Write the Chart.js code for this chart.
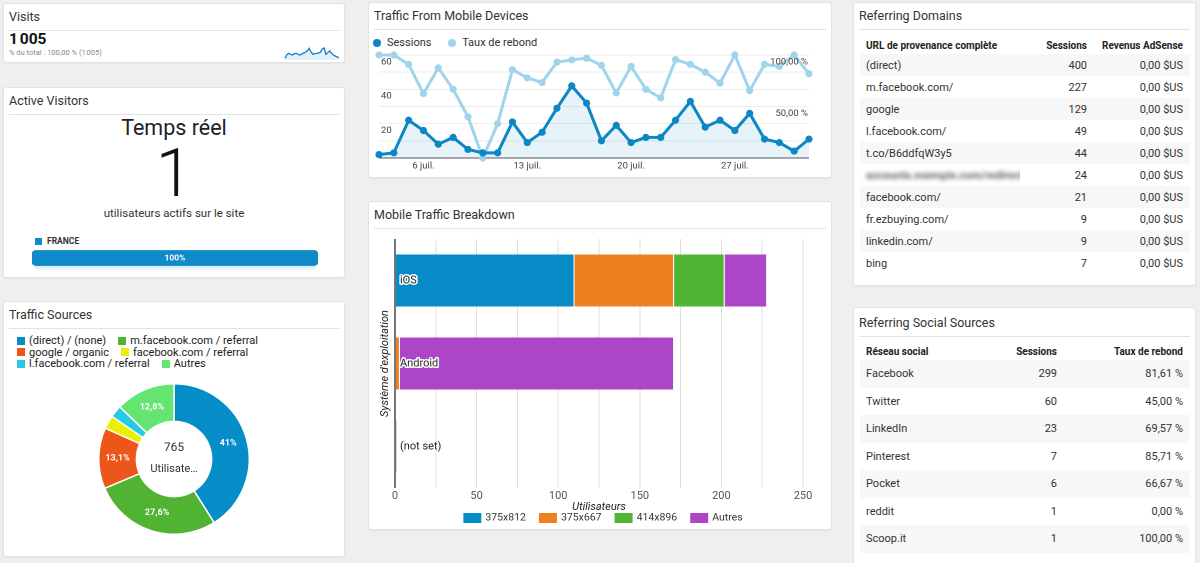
<!DOCTYPE html>
<html><head><meta charset="utf-8">
<script src="https://cdn.jsdelivr.net/npm/chart.js@4.4.1/dist/chart.umd.min.js"></script>
<style>
body{margin:0;width:1200px;height:563px;background:#efefef;font-family:Roboto,Arial,sans-serif;overflow:hidden;position:relative;color:#333}
.panel{position:absolute;background:#fff;border:1px solid #e3e3e3;border-radius:3px;box-shadow:0 1px 2px rgba(0,0,0,0.05);box-sizing:border-box}
.ttl{position:absolute;left:5px;top:5px;font-size:12.5px;line-height:16px;color:#333;white-space:nowrap}
.rule{position:absolute;left:5px;right:5px;top:26px;height:1px;background:#e2e2e2}
canvas{position:absolute}
.abs{position:absolute;white-space:nowrap}
table{position:absolute;border-collapse:collapse;table-layout:fixed;font-size:11px;color:#333}
th{font-weight:bold;color:#222;font-size:10px;height:18px;padding:0;white-space:nowrap}
td{padding:0;white-space:nowrap;overflow:hidden}
tr.st td{background:#f7f7f7}
.l{text-align:left;padding-left:6px}
.r{text-align:right;padding-right:6px}
.blur{filter:blur(2px);color:#666;font-weight:bold}
.lg{position:absolute;left:13px;font-size:11px;line-height:11.5px;color:#222;white-space:nowrap}
.sq{display:inline-block;width:8px;height:8px;margin-right:4px;vertical-align:-0.5px}
.dot{display:inline-block;width:8px;height:8px;border-radius:50%;vertical-align:-0.5px}
</style></head>
<body>

<!-- Visits -->
<div class="panel" style="left:3px;top:3px;width:342px;height:60px">
  <div class="ttl">Visits</div><div class="rule"></div>
  <div class="abs" id="visitTotal" style="left:5px;top:26px;font-size:15.5px;line-height:18px;font-weight:bold;color:#111"></div>
  <div class="abs" id="visitSub" style="left:5px;top:44px;font-size:7.5px;line-height:10px;color:#888"></div>
</div>
<canvas id="spark" style="left:283px;top:40px;width:58px;height:21px"></canvas>

<!-- Active Visitors -->
<div class="panel" style="left:3px;top:87px;width:342px;height:191px">
  <div class="ttl">Active Visitors</div><div class="rule"></div>
  <div class="abs" style="left:0;width:340px;top:27px;text-align:center;font-size:21.5px;line-height:26px;color:#222">Temps réel</div>
  <div class="abs" id="activeNum" style="left:0;width:340px;top:51px;text-align:center;font-size:66px;line-height:70px;font-weight:300;color:#111"></div>
  <div class="abs" style="left:0;width:340px;top:117px;text-align:center;font-size:11.5px;line-height:16px;color:#333">utilisateurs actifs sur le site</div>
  <div class="abs" id="countryLbl" style="left:31px;top:148px;font-size:8.5px;line-height:10px;font-weight:bold;color:#333"></div>
</div>
<div style="position:absolute;left:35px;top:265px;width:280px;height:6px;background:linear-gradient(rgba(15,139,201,0.22),rgba(15,139,201,0));"></div>
<canvas id="country" style="left:32px;top:248px;width:286px;height:20px"></canvas>

<!-- Traffic Sources -->
<div class="panel" style="left:3px;top:301px;width:342px;height:256px">
  <div class="ttl">Traffic Sources</div><div class="rule"></div>
  <div id="srcLegend"></div>
</div>
<canvas id="donut" style="left:3px;top:369px;width:342px;height:180px"></canvas>

<!-- Traffic From Mobile Devices -->
<div class="panel" style="left:368px;top:2px;width:464px;height:176px">
  <div class="ttl">Traffic From Mobile Devices</div><div class="rule"></div>
  <div class="abs" style="left:4px;top:33px;font-size:11px;line-height:14px;color:#333">
    <span class="dot" style="background:#0c86c4"></span><span style="margin-left:6px">Sessions</span>
    <span class="dot" style="background:#9fd4ec;margin-left:14px"></span><span style="margin-left:6px">Taux de rebond</span>
  </div>
</div>
<canvas id="mobile" style="left:368px;top:48px;width:464px;height:128px"></canvas>

<!-- Mobile Traffic Breakdown -->
<div class="panel" style="left:368px;top:201px;width:464px;height:329px">
  <div class="ttl">Mobile Traffic Breakdown</div><div class="rule"></div>
</div>
<canvas id="breakdown" style="left:368px;top:232px;width:464px;height:297px"></canvas>

<!-- Referring Domains -->
<div class="panel" style="left:853px;top:2px;width:343px;height:284px">
  <div class="ttl">Referring Domains</div><div class="rule"></div>
  <table id="domTable" style="left:6px;top:33px;width:330px">
    <colgroup><col style="width:160px"><col style="width:73px"><col style="width:97px"></colgroup>
  </table>
</div>

<!-- Referring Social Sources -->
<div class="panel" style="left:853px;top:307px;width:343px;height:270px">
  <div class="ttl" style="top:7px">Referring Social Sources</div><div class="rule" style="top:28px"></div>
  <table id="socTable" style="left:6px;top:34px;width:330px">
    <colgroup><col style="width:140px"><col style="width:63px"><col style="width:127px"></colgroup>
  </table>
</div>

<script>
// ---------------- DATA ----------------
const visitsTotal = 1005;
const visitsSpark = [5,16,20,17,15,19,20,17,15,18,21,23,28,35,24,17,19,20,21,23,33,36,17,22,27,20,15,12,9,7];

const activeUsers = 1;
const countries = ['FRANCE'];
const countryShare = [100];

const srcLabels = ['(direct) / (none)','m.facebook.com / referral','google / organic','facebook.com / referral','l.facebook.com / referral','Autres'];
const srcUsers = [314,211,100,22,20,98];
const srcColors = ['#058dc7','#50b432','#ed561b','#edef00','#24cbe5','#64e572'];

const dates = ['3 juil.','4 juil.','5 juil.','6 juil.','7 juil.','8 juil.','9 juil.','10 juil.','11 juil.','12 juil.','13 juil.','14 juil.','15 juil.','16 juil.','17 juil.','18 juil.','19 juil.','20 juil.','21 juil.','22 juil.','23 juil.','24 juil.','25 juil.','26 juil.','27 juil.','28 juil.','29 juil.','30 juil.','31 juil.','1 août'];
const sessions = [2,3,22,16,8,12,5,3,3,21,9,15,29,42,32,10,19,9,12,12,22,33,18,22,16,26,11,9,4,11];
const bounceRate = [100,100,90.9,62.5,87.5,66.7,40,0,33.3,85.7,77.8,73.3,93.1,95.2,96.9,90,63.2,88.9,66.7,58.3,95.5,90.9,83.3,72.7,100,65.4,90.9,88.9,100,81.8];
const dateTicks = ['6 juil.','13 juil.','20 juil.','27 juil.'];
const sessionTicks = [20,40,60];
const bounceTicks = [50,100];
const bounceTickLabels = ['50,00 %','100,00 %'];

const osNames = ['iOS','Android','(not set)'];
const resLabels = ['375x812','375x667','414x896','Autres'];
const res375x812 = [110,0,0];
const res375x667 = [61,3,0];
const res414x896 = [31,0,0];
const resOther = [26,168,1];
const resColors = ['#068bc8','#ef801f','#4fb533','#ab47c7'];
const userTicks = [0,50,100,150,200,250];

const domainNames = ['(direct)','m.facebook.com/','google','l.facebook.com/','t.co/B6ddfqW3y5','accounts.exemple.com/redirect','facebook.com/','fr.ezbuying.com/','linkedin.com/','bing'];
const domainSessions = [400,227,129,49,44,24,21,9,9,7];
const domainRevenue = ['0,00 $US','0,00 $US','0,00 $US','0,00 $US','0,00 $US','0,00 $US','0,00 $US','0,00 $US','0,00 $US','0,00 $US'];

const socialNames = ['Facebook','Twitter','LinkedIn','Pinterest','Pocket','reddit','Scoop.it'];
const socialSessions = [299,60,23,7,6,1,1];
const socialBounce = ['81,61 %','45,00 %','69,57 %','85,71 %','66,67 %','0,00 %','100,00 %'];

// ---------------- TEXT / TABLES ----------------
const fmtSpace = n => String(n).replace(/\B(?=(\d{3})+(?!\d))/g, '\u202f');
document.getElementById('visitTotal').textContent = fmtSpace(visitsTotal);
document.getElementById('visitSub').textContent = '% du total : 100,00 % (' + fmtSpace(visitsTotal) + ')';
document.getElementById('activeNum').textContent = activeUsers;
document.getElementById('countryLbl').innerHTML = '<span class="sq" style="background:#0f8bc9;width:7px;height:7px;margin-right:5px;vertical-align:-0.5px"></span>' + countries[0];

(function(){
  let h = '';
  for (let r = 0; r < 3; r++) {
    h += '<div class="lg" style="top:' + (33 + r*11.5) + 'px">';
    for (let c = 0; c < 2; c++) {
      const i = r*2 + c;
      h += '<span style="' + (c ? 'margin-left:12px' : '') + '"><span class="sq" style="background:' + srcColors[i] + '"></span>' + srcLabels[i] + '</span>';
    }
    h += '</div>';
  }
  document.getElementById('srcLegend').innerHTML = h;

  let t = '<tr><th class="l">URL de provenance complète</th><th class="r">Sessions</th><th class="r" style="padding-right:7px">Revenus AdSense</th></tr>';
  domainNames.forEach((n,i) => {
    t += '<tr class="' + (i%2===0?'st':'') + '" style="height:22px"><td class="l">' + (i===5?'<span class="blur">'+n+'</span>':n) + '</td><td class="r">' + domainSessions[i] + '</td><td class="r" style="padding-right:7px">' + domainRevenue[i] + '</td></tr>';
  });
  document.getElementById('domTable').insertAdjacentHTML('beforeend', t);

  let s = '<tr><th class="l">Réseau social</th><th class="r">Sessions</th><th class="r" style="padding-right:7px">Taux de rebond</th></tr>';
  socialNames.forEach((n,i) => {
    s += '<tr class="' + (i%2===0?'st':'') + '" style="height:27.5px"><td class="l">' + n + '</td><td class="r">' + socialSessions[i] + '</td><td class="r" style="padding-right:7px">' + socialBounce[i] + '</td></tr>';
  });
  document.getElementById('socTable').insertAdjacentHTML('beforeend', s);
})();

// ---------------- CHARTS ----------------
Chart.defaults.font.family = 'Roboto, Arial, sans-serif';
Chart.defaults.animation = false;
Chart.defaults.responsive = false;
Chart.defaults.devicePixelRatio = 2;
Chart.defaults.plugins.legend.display = false;
Chart.defaults.plugins.tooltip.enabled = false;

function sizeCanvas(id){
  const c = document.getElementById(id);
  c.width = parseFloat(c.style.width); c.height = parseFloat(c.style.height);
  return c;
}

// Sparkline
new Chart(sizeCanvas('spark'), {
  type: 'line',
  data: { labels: visitsSpark.map((_,i)=>i), datasets: [{ data: visitsSpark, borderColor:'#1a7fc4', borderWidth:1.3, pointRadius:0, fill:'origin', backgroundColor:'rgba(5,141,199,0.12)', tension:0 }]},
  options: { layout:{padding:{left:2,right:2,top:0,bottom:1}}, scales:{ x:{display:false}, y:{display:false,min:0,max:60} } }
});

// Country bar
new Chart(sizeCanvas('country'), {
  type: 'bar',
  data: { labels: countries, datasets: [{ data: countryShare, backgroundColor:'#0f8bc9', borderRadius:4, borderSkipped:false, barThickness:15 }]},
  options: { indexAxis:'y', layout:{padding:0}, scales:{ x:{display:false,min:0,max:100}, y:{display:false} } },
  plugins: [{ id:'pct', afterDatasetsDraw(chart){
    const ctx = chart.ctx; const el = chart.getDatasetMeta(0).data[0];
    ctx.save(); ctx.fillStyle='#fff'; ctx.font='bold 8.5px Roboto, Arial'; ctx.textAlign='center'; ctx.textBaseline='middle';
    ctx.fillText(countryShare[0] + '%', (chart.chartArea.left+el.x)/2, el.y+0.5); ctx.restore();
  }}]
});

// Donut
const srcTotal = srcUsers.reduce((a,b)=>a+b,0);
new Chart(sizeCanvas('donut'), {
  type: 'doughnut',
  data: { labels: srcLabels, datasets: [{ data: srcUsers, backgroundColor: srcColors, borderColor:'#fff', borderWidth:1.5 }]},
  options: { cutout:'50%', layout:{padding:14} },
  plugins: [{ id:'donutText', afterDatasetsDraw(chart){
    const ctx = chart.ctx; const meta = chart.getDatasetMeta(0);
    ctx.save(); ctx.textAlign='center'; ctx.textBaseline='middle';
    meta.data.forEach((arc,i) => {
      const pct = srcUsers[i]/srcTotal*100;
      if (pct < 5) return;
      const mid = (arc.startAngle + arc.endAngle)/2;
      const r = (arc.innerRadius + arc.outerRadius)/2;
      const lbl = (Math.round(pct*10)/10).toString().replace('.', ',') + '%';
      ctx.font = 'bold 9px Roboto, Arial'; ctx.fillStyle = '#fff';
      ctx.fillText(lbl, arc.x + Math.cos(mid)*r, arc.y + Math.sin(mid)*r);
    });
    const a0 = meta.data[0];
    ctx.fillStyle = '#333';
    ctx.font = '12px Roboto, Arial'; ctx.fillText(String(srcTotal), a0.x, a0.y - 11);
    ctx.font = '11px Roboto, Arial'; ctx.fillText('Utilisate…', a0.x, a0.y + 10);
    ctx.restore();
  }}]
});

// Mobile devices line chart
new Chart(sizeCanvas('mobile'), {
  type: 'line',
  data: { labels: dates, datasets: [
    { label:'Sessions', data: sessions, yAxisID:'y', borderColor:'#0c86c4', backgroundColor:'rgba(12,134,196,0.10)', fill:'origin', borderWidth:3, pointRadius:3.6, pointBackgroundColor:'#0c86c4', pointBorderWidth:0, tension:0, clip:false },
    { label:'Taux de rebond', data: bounceRate, yAxisID:'y2', borderColor:'#9fd4ec', backgroundColor:'#9fd4ec', fill:false, borderWidth:3, pointRadius:3.6, pointBackgroundColor:'#9fd4ec', pointBorderWidth:0, tension:0, clip:false }
  ]},
  options: {
    layout:{padding:{left:11,right:23,top:7,bottom:18}},
    scales:{
      x:{display:false},
      y:{display:true, min:0, max:60, ticks:{display:false, stepSize:10}, border:{display:false},
         grid:{drawTicks:false, color: c => c.tick && c.tick.value===0 ? '#555' : '#ededed', lineWidth:1}},
      y2:{display:false, min:0, max:100}
    }
  },
  plugins: [{ id:'mobileLabels', afterDraw(chart){
    const {ctx, chartArea:a, scales} = chart;
    ctx.save(); ctx.font='9.5px Roboto, Arial'; ctx.fillStyle='#444'; ctx.textBaseline='middle';
    ctx.textAlign='left';
    sessionTicks.forEach(v => ctx.fillText(String(v), a.left+2, scales.y.getPixelForValue(v)+7));
    ctx.textAlign='right';
    bounceTicks.forEach((v,i) => ctx.fillText(bounceTickLabels[i], a.right-1, scales.y2.getPixelForValue(v)+7));
    ctx.textAlign='center';
    dateTicks.forEach(d => ctx.fillText(d, scales.x.getPixelForValue(dates.indexOf(d)), a.bottom+8));
    ctx.restore();
  }}]
});

// Mobile traffic breakdown
const resData = [res375x812, res375x667, res414x896, resOther];
new Chart(sizeCanvas('breakdown'), {
  type: 'bar',
  data: { labels: osNames, datasets: resData.map((d,i) => ({ label: resLabels[i], data: d, backgroundColor: resColors[i], borderColor:'#fff', borderWidth:{right:1}, borderSkipped:false, barPercentage:0.627, categoryPercentage:1 })) },
  options: {
    indexAxis:'y',
    layout:{padding:{left:27,right:29,top:7,bottom:41}},
    scales:{
      x:{stacked:true, min:0, max:250, ticks:{display:false, stepSize:25}, border:{display:false},
         grid:{drawTicks:false, color: c => c.tick && c.tick.value===0 ? '#777' : '#dedede', lineWidth: c => c.tick && c.tick.value===0 ? 2 : 1}},
      y:{stacked:true, display:false}
    }
  },
  plugins: [{ id:'bdLabels', afterDraw(chart){
    const {ctx, chartArea:a, scales} = chart;
    ctx.save(); ctx.textBaseline='middle';
    ctx.font='11px Roboto, Arial'; ctx.fillStyle='#555'; ctx.textAlign='center';
    userTicks.forEach(v => ctx.fillText(String(v), scales.x.getPixelForValue(v), a.bottom+8));
    ctx.font='italic 11px Roboto, Arial'; ctx.fillStyle='#222';
    ctx.fillText('Utilisateurs', (a.left+a.right)/2, a.bottom+19);
    ctx.save(); ctx.translate(a.left-10, (a.top+a.bottom)/2); ctx.rotate(-Math.PI/2);
    ctx.fillText("Système d'exploitation", 0, 0); ctx.restore();
    ctx.font='11px Roboto, Arial'; ctx.textAlign='left';
    osNames.forEach((n,i) => {
      const y = scales.y.getPixelForValue(i);
      if (i < 2) { ctx.strokeStyle='#fff'; ctx.lineWidth=3; ctx.lineJoin='round'; ctx.strokeText(n, a.left+5, y); }
      ctx.fillStyle='#222'; ctx.fillText(n, a.left+5, y);
    });
    ctx.font='10.5px Roboto, Arial';
    const widths = resLabels.map(l => 18 + 4 + ctx.measureText(l).width);
    const gap = 13;
    const total = widths.reduce((s,w)=>s+w,0) + gap*(resLabels.length-1);
    let x = (a.left+a.right)/2 - total/2 + 4;
    const ly = a.bottom + 30;
    resLabels.forEach((l,i) => {
      ctx.fillStyle = resColors[i]; ctx.fillRect(x, ly-5, 18, 10);
      ctx.fillStyle = '#333'; ctx.fillText(l, x+22, ly);
      x += widths[i] + gap;
    });
    ctx.restore();
  }}]
});
</script>
</body></html>
